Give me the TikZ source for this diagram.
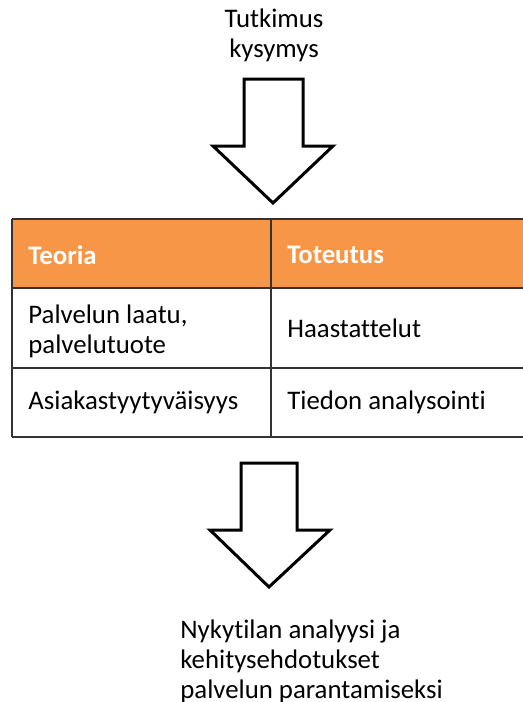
\documentclass[tikz,border=0pt]{standalone}
\usepackage{fontspec}
\setmainfont{Carlito}[Ligatures=NoCommon]
\definecolor{headorange}{HTML}{F79646}
\definecolor{rulegray}{HTML}{333333}
\begin{document}
\begin{tikzpicture}[x=0.5pt,y=-0.5pt,
      every node/.style={font=\fontsize{13.4}{15}\selectfont,inner sep=0pt},
      cell/.style={anchor=west,align=left},
      headcell/.style={cell,text=white,font=\fontsize{13.4}{15}\selectfont\bfseries},
      bigarrow/.style={draw=black,line width=1.5pt,fill=white,line join=miter},
      tablerule/.style={draw=rulegray,line width=1pt}]
   \useasboundingbox (0,0) rectangle (523,702);
   \node[align=center] (kysymys) at (274,35) {Tutkimus\\kysymys};
   \draw[bigarrow] (244,79) -- (303,79) -- (303,146) -- (333,146) -- (273,203)
         -- (213,146) -- (244,146) -- cycle;
   % table
   \fill[headorange] (12,219) rectangle (523,288);
   \draw[tablerule] (12,219) -- (523,219);
   \draw[tablerule] (12,288) -- (523,288);
   \draw[tablerule] (12,368) -- (523,368);
   \draw[tablerule] (12,437) -- (523,437);
   \draw[tablerule] (12,219) -- (12,437);
   \draw[tablerule] (271,219) -- (271,437);
   \node[headcell] (teoria) at (28,255) {Teoria};
   \node[headcell] (toteutus) at (287,255) {Toteutus};
   \node[cell] (laatu) at (28,331) {Palvelun laatu,\\palvelutuote};
   \node[cell] (haast) at (287,328) {Haastattelut};
   \node[cell] (tyyt) at (28,402) {Asiakastyytyväisyys};
   \node[cell] (analyysi) at (287,402) {Tiedon analysointi};
   \draw[bigarrow] (241,463) -- (297,463) -- (297,530) -- (330,530) -- (269,587)
         -- (210,530) -- (241,530) -- cycle;
   \node[cell] (tulos) at (180,661) {Nykytilan analyysi ja\\kehitysehdotukset\\palvelun parantamiseksi};
\end{tikzpicture}
\end{document}
